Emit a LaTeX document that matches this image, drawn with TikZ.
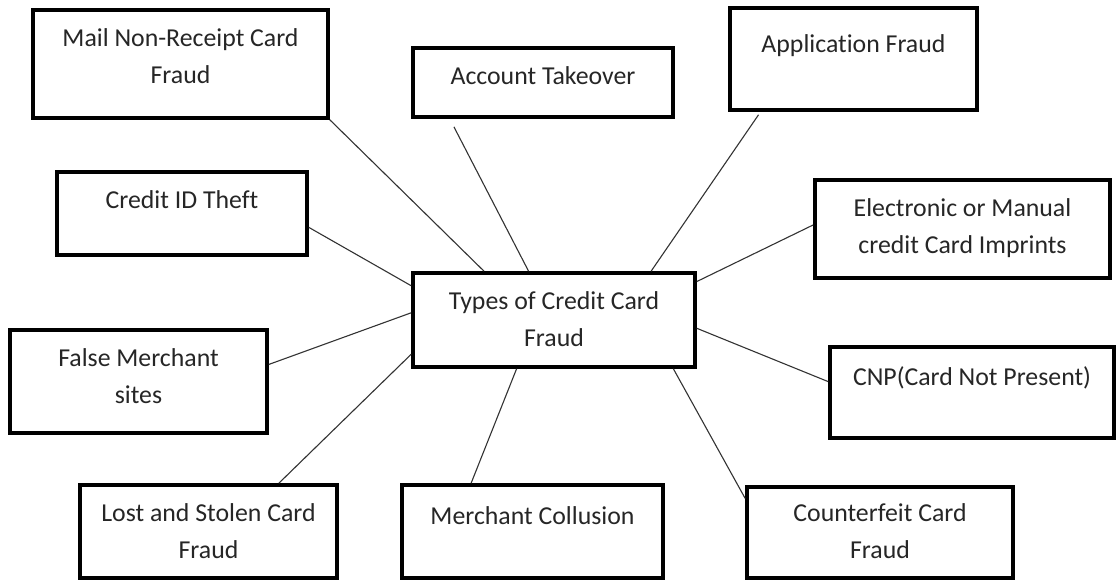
\documentclass[tikz,border=0pt]{standalone}
\usepackage{fontspec}
\setmainfont{Carlito}[Ligatures=NoCommon]
\usetikzlibrary{calc}
\newcommand{\tbx}[4][36pt]{\parbox[c][#3][t]{#2}{\centering\rule{0pt}{#1}#4}}
\begin{document}
\begin{tikzpicture}[x=1pt,y=-1pt,
  fbox/.style={draw=black, line width=3.6pt, inner sep=0pt, text=black!85,
               font=\fontsize{25.8}{37}\selectfont},
  conn/.style={line width=1.1pt, draw=black!80}]
\useasboundingbox[fill=white] (0,0) rectangle (1117,581);
% boxes
\node[fbox] (mail)  at (180.5,64)   {\tbx{295pt}{108pt}{Mail Non-Receipt Card\\Fraud}};
\node[fbox] (acct)  at (543,82.5)   {\tbx{260pt}{69pt}{Account Takeover}};
\node[fbox] (app)   at (853.5,59)   {\tbx[44pt]{247pt}{102pt}{Application Fraud}};
\node[fbox] (cred)  at (182,213.5)  {\tbx{250pt}{83pt}{Credit ID Theft}};
\node[fbox] (elec)  at (962.5,229)  {\tbx{295pt}{98pt}{Electronic or Manual\\credit Card Imprints}};
\node[fbox] (ctr)   at (554,320)    {\tbx{282pt}{94pt}{Types of Credit Card\\Fraud}};
\node[fbox] (fals)  at (138.5,381.5){\tbx{257pt}{103pt}{False Merchant\\sites}};
\node[fbox] (cnp)   at (972,392.5)  {\tbx[38pt]{284pt}{91pt}{CNP(Card Not Present)}};
\node[fbox] (lost)  at (208.5,531.5){\tbx{257pt}{93pt}{Lost and Stolen Card\\Fraud}};
\node[fbox] (merch) at (532.5,531.5){\tbx[39pt]{261pt}{93pt}{Merchant Collusion}};
\node[fbox] (cntf)  at (880,532.5)  {\tbx[34pt]{266pt}{91pt}{Counterfeit Card\\Fraud}};
% connectors
\draw[conn] (mail.south east) -- ($(ctr.north west)!0.255!(ctr.north east)$);
\draw[conn] ($(acct.south west)!0.162!(acct.south east)+(0,8)$) -- ($(ctr.north west)!0.411!(ctr.north east)$);
\draw[conn] ($(app.south west)!0.121!(app.south east)+(0,3)$) -- ($(ctr.north west)!0.84!(ctr.north east)$);
\draw[conn] ($(cred.north east)!0.66!(cred.south east)$) -- ($(ctr.north west)!0.149!(ctr.south west)$);
\draw[conn] ($(elec.north west)!0.46!(elec.south west)$) -- ($(ctr.north east)!0.106!(ctr.south east)$);
\draw[conn] ($(fals.north east)!0.34!(fals.south east)$) -- ($(ctr.north west)!0.426!(ctr.south west)$);
\draw[conn] ($(lost.north west)!0.77!(lost.north east)$) -- ($(ctr.north west)!0.851!(ctr.south west)$);
\draw[conn] ($(merch.north west)!0.268!(merch.north east)$) -- ($(ctr.south west)!0.369!(ctr.south east)$);
\draw[conn] ($(cntf.north west)!0.14!(cntf.south west)$) -- ($(ctr.south west)!0.918!(ctr.south east)$);
\draw[conn] ($(cnp.north west)!0.385!(cnp.south west)$) -- ($(ctr.north east)!0.585!(ctr.south east)$);
\end{tikzpicture}
\end{document}
